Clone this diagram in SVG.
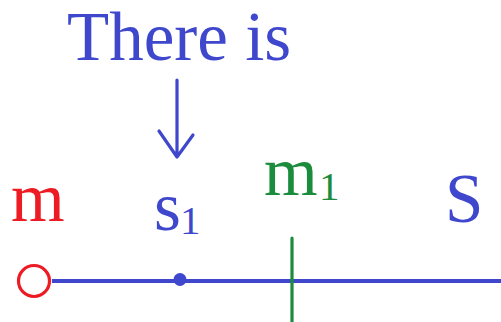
<svg xmlns="http://www.w3.org/2000/svg" width="501" height="322" viewBox="0 0 501 322">
<style>
text{font-family:"Liberation Serif","Times New Roman",serif}
.blue{fill:#3f48cc}
.red{fill:#ed1c24}
.green{fill:#1a8c3c}
.big{font-size:69px}
.sub{font-size:41px}
</style>
<rect width="501" height="322" fill="#ffffff"/>
<g id="title"><text class="blue big" x="67" y="60">There is</text></g>
<g id="connectors">
<line x1="52" y1="281" x2="501" y2="281" stroke="#3f48cc" stroke-width="4"/>
<path d="M177 80 V156 M159 131 L177 157 L193 135" fill="none" stroke="#3f48cc" stroke-width="3.2" stroke-linecap="round" stroke-linejoin="round"/>
</g>
<g id="m">
<circle cx="34" cy="281" r="15.5" fill="#ffffff" stroke="#ed1c24" stroke-width="3.2"/>
<text class="red big" x="11" y="221">m</text>
</g>
<g id="s1">
<circle cx="180" cy="279.5" r="6.5" fill="#3f48cc"/>
<text class="blue big" x="154" y="230">s</text>
<text class="blue sub" x="180" y="234">1</text>
</g>
<g id="m1">
<line x1="292" y1="238" x2="292" y2="322" stroke="#1a8c3c" stroke-width="3.2" stroke-linecap="round"/>
<text class="green big" x="264" y="195">m</text>
<text class="green sub" x="319" y="200">1</text>
</g>
<g id="S"><text class="blue big" x="445" y="222">S</text></g>
</svg>
